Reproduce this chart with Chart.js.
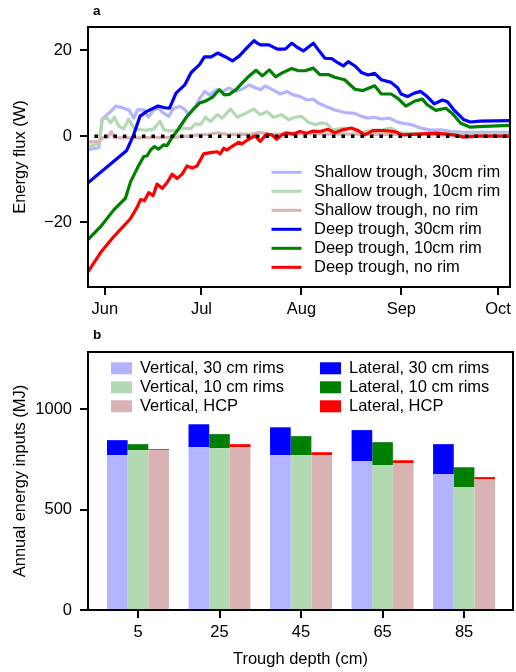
<!DOCTYPE html>
<html>
<head>
<meta charset="utf-8">
<script src="https://cdn.jsdelivr.net/npm/chart.js@4.4.1/dist/chart.umd.min.js"></script>
<style>
  body { margin: 0; background: #fff; }
  #wrap { position: relative; width: 516px; height: 672px; }
  #wrap canvas { position: absolute; left: 0; }
</style>
</head>
<body>
<div id="wrap">
  <canvas id="fluxChart" width="516" height="320" style="top:0"></canvas>
  <canvas id="energyChart" width="516" height="352" style="top:320px"></canvas>
</div>
<script>
// --- Panel a : energy flux, days counted from 1 June ---
const monthTicks = [0, 30, 61, 92, 122];
const monthLabels = ['Jun', 'Jul', 'Aug', 'Sep', 'Oct'];

const shallow30Days = [-5.2, -1.8, -0.8, 1.8, 3.4, 5, 6.4, 7.5, 9, 10.1, 12.1, 13.6, 15.1, 16.6, 18.3, 19.8, 21.4, 23.4, 25, 26, 28, 29.5, 31, 32.5, 34.7, 36.7, 38.5, 40.5, 42.8, 44.8, 46.9, 48.4, 49.8, 52, 54.5, 56.5, 58.5, 60.7, 62.8, 64.7, 66.2, 68.3, 71.4, 74.4, 77.5, 79.6, 81.7, 83.7, 85.8, 88.3, 91, 95, 98, 101, 104.3, 107.3, 111.4, 116.5, 125.7];
const shallow30Vals = [-3.2, -2.6, 4.0, 5.7, 7.0, 6.7, 6.3, 6.1, 4.2, 6.1, 6.1, 4.4, 6.1, 6.5, 5.3, 4.6, 6.5, 6.9, 6.1, 5.0, 6.9, 8.8, 10.4, 9.6, 10.8, 10.4, 11.2, 10.4, 11.0, 11.9, 11.2, 10.8, 11.7, 10.8, 9.8, 10.4, 9.6, 9.2, 8.4, 8.6, 7.7, 7.0, 6.1, 5.5, 5.3, 4.6, 4.2, 4.4, 4.0, 4.2, 3.2, 2.7, 1.9, 1.4, 1.5, 1.1, 0.9, 0.9, 0.9];

const shallow10Days = [-5.2, -1.8, -0.8, 0.7, 1.8, 3.0, 4.4, 5.9, 7.4, 9, 11.1, 13.1, 15.2, 17.1, 18.3, 20.4, 22.4, 24.5, 26.6, 28.1, 29.7, 31.3, 32.8, 34.9, 36.4, 39, 41.1, 43.6, 46.2, 48.2, 50.3, 52.3, 54.9, 57, 59, 61.1, 63.2, 65.2, 67.2, 68.8, 70.8, 73.9, 77, 79.1, 83.2, 86.2, 88.8, 91.3, 96.5, 101.6, 111.8, 125.7];
const shallow10Vals = [-2.4, -1.8, 4.0, 4.2, 3.1, 4.4, 2.3, 1.7, 4.0, 1.9, 1.5, 1.4, 1.7, 3.5, 1.5, 1.2, 1.5, 1.9, 1.7, 2.9, 2.7, 4.4, 3.4, 5.0, 4.2, 6.3, 4.4, 5.3, 6.3, 5.0, 5.7, 4.4, 5.0, 3.8, 4.4, 4.6, 3.2, 2.7, 3.1, 2.9, 1.4, 1.9, 1.5, 0.8, 1.4, 1.5, 1.9, 0.8, 0.6, 0.7, 0.5, 0.5];

const shallowNoDays = [-5.2, -1.8, -0.8, 1, 2, 3, 6, 10, 14, 18, 22, 26, 29, 32, 35, 38, 42, 45, 48, 51, 55, 60, 65, 70, 80, 90, 100, 110, 125.7];
const shallowNoVals = [-1.3, -1.3, -0.4, -0.2, 1.0, -0.3, -0.4, -0.4, -0.3, -0.3, -0.2, 0, 0.3, 0.4, 0.8, 0.4, 0.5, 0.4, 0.9, 0.4, 0.5, 0.6, 0.6, 0.5, 0.5, 0.4, 0.4, 0.2, 0.1];

const deep30Days = [-5.2, -1, 3, 6.8, 8.8, 10.9, 12.9, 16.5, 18.6, 20.1, 22.1, 24.8, 26.8, 29.4, 30.9, 33, 35, 37.5, 39.6, 41.7, 43.7, 46.3, 47.3, 48.3, 50.9, 53.5, 56, 58, 59.6, 61.6, 64.7, 66.2, 68.3, 70.4, 72.4, 74, 75.5, 77.6, 79.6, 81.7, 83.7, 85.8, 88.8, 90.9, 91.9, 93.9, 96, 98, 100, 102.2, 104.7, 106.3, 108.3, 111.4, 113.4, 116.5, 125.7];
const deep30Vals = [-10.8, -8.2, -5.7, -3.3, 0, 4.6, 5.7, 7.0, 6.6, 6.5, 10.0, 11.9, 14.8, 16.6, 18.4, 18.4, 19.3, 18.4, 17.5, 18.6, 20.2, 22.2, 21.6, 21.2, 21.2, 20.2, 20.2, 21.6, 20.7, 19.8, 21.6, 20.1, 18.1, 18.0, 17.0, 16.3, 17.3, 16.3, 14.8, 14.2, 14.6, 13.1, 12.5, 11.2, 9.8, 9.2, 10.0, 10.4, 9.2, 7.5, 8.4, 8.0, 6.1, 3.8, 3.3, 3.5, 3.6];

const deep10Days = [-5.2, -1.3, 2.8, 6.4, 8, 10.1, 12.1, 13.1, 14.2, 15.4, 16.7, 18.3, 19.3, 20.7, 22.7, 25.3, 27.3, 29.4, 31.4, 33.5, 35.5, 37.1, 38.6, 40.7, 42.8, 44.8, 46.9, 48.9, 51, 53, 55, 58, 60.1, 62.1, 64.7, 66.7, 69.3, 71.3, 74.4, 77.6, 80.1, 83.7, 85.8, 88.8, 90.9, 93.4, 96, 98.5, 100, 102.7, 105.8, 107.8, 110.4, 113.4, 117.5, 125.7];
const deep10Vals = [-24, -21, -17.1, -14.4, -10.6, -7.4, -4.7, -4.6, -3.2, -2.4, -3.0, -2.0, -2.2, -0.5, 1.5, 4.4, 6.1, 7.7, 8.2, 9.1, 10.8, 9.6, 9.7, 10.8, 12.5, 14.0, 15.3, 14.0, 15.4, 13.8, 14.7, 15.7, 15.2, 15.2, 15.8, 14.3, 14.3, 13.7, 13.1, 10.9, 10.6, 11.7, 9.8, 9.8, 8.8, 7.0, 8.1, 8.6, 7.3, 6.0, 6.5, 5.3, 3.0, 2.1, 2.3, 2.5];

const deepNoDays = [-5.2, -1.3, 2.8, 8, 10.1, 11.1, 12.3, 13.6, 15, 16.2, 17.8, 19.3, 20.9, 22.4, 24, 25.5, 27.1, 28.6, 30.7, 32.7, 34.8, 35.8, 36.9, 37.9, 39.4, 41.5, 42.5, 44.6, 46.6, 48.2, 50.2, 51.8, 53.3, 54.9, 56.4, 58.5, 60.5, 62.6, 64.6, 66.7, 69.3, 71.4, 73.4, 76.5, 78.6, 80.6, 83.2, 86.5, 89.9, 92.4, 97, 102.8, 106, 108.3, 111.4, 115.5, 125.7];
const deepNoVals = [-31.5, -27, -23.3, -19.1, -16.4, -14.7, -15.0, -13.1, -13.8, -11.1, -12.1, -10.8, -8.8, -9.8, -8.8, -6.9, -7.4, -6.9, -4.1, -3.8, -3.6, -4.1, -2.8, -3.2, -2.4, -1.4, -1.8, -0.7, 0.1, -1.2, 0.5, 0.3, -0.7, 0.3, 0.8, 0.5, 1.1, 0.7, 1.2, 1.1, 1.6, 0.8, 1.4, 1.9, 1.3, 0.3, 1.3, 1.3, 1.1, 0.3, 0.5, 0.7, 0.5, 0.3, -0.2, 0, 0];

const zeroDays = [-3.2, 125.7];
const zeroVals = [0, 0];

// --- Panel b : annual energy inputs (MJ) ---
const depths = [5, 25, 45, 65, 85];
const vert30 = [771, 811, 771, 741, 677];
const vert10 = [796, 806, 771, 721, 612];
const vertHcp = [796, 811, 771, 731, 652];
const lat30 = [75, 114, 139, 155, 149];
const lat10 = [30, 70, 95, 115, 99];
const latHcp = [5, 15, 15, 15, 10];

const FONT = '"Liberation Sans", Arial, Helvetica, sans-serif';
Chart.defaults.font.family = FONT;
Chart.defaults.font.size = 16.5;
Chart.defaults.color = '#000';

const C = {
  lightBlue: '#b3b3ff', lightGreen: '#b3d9b3', lightRed: '#d9b3b3',
  blue: '#0000ff', green: '#008000', red: '#ff0000'
};

function pts(xs, ys) {
  return xs.map((x, i) => ({ x: x, y: ys[i] }));
}

// cadre, lettre du panneau et légende dessinés à la main
const decorPlugin = {
  id: 'decor',
  afterDraw(chart, args, opts) {
    const ctx = chart.ctx;
    const a = chart.chartArea;
    ctx.save();
    ctx.strokeStyle = '#000';
    ctx.lineWidth = 2;
    ctx.strokeRect(a.left, a.top, a.right - a.left, a.bottom - a.top);

    ctx.fillStyle = '#000';
    ctx.font = 'bold 13.5px ' + FONT;
    ctx.textBaseline = 'alphabetic';
    ctx.fillText(opts.letter, a.left + 5, opts.letterY);

    ctx.font = '16.5px ' + FONT;
    ctx.textBaseline = 'middle';
    opts.items.forEach(it => {
      const ds = chart.data.datasets.find(d => d.label === it.label);
      if (opts.kind === 'line') {
        ctx.strokeStyle = ds.borderColor;
        ctx.lineWidth = 3;
        ctx.beginPath();
        ctx.moveTo(it.x, it.y);
        ctx.lineTo(it.x + 30, it.y);
        ctx.stroke();
        ctx.fillStyle = '#000';
        ctx.fillText(it.label, it.x + 42.5, it.y + 0.5);
      } else {
        ctx.fillStyle = ds.backgroundColor;
        ctx.fillRect(it.x, it.y - 6, 21, 12);
        ctx.fillStyle = '#000';
        ctx.fillText(it.label, it.x + 29, it.y + 0.5);
      }
    });
    ctx.restore();
  }
};

function lineSet(label, days, vals, color, order) {
  return {
    label: label,
    data: pts(days, vals),
    borderColor: color,
    borderWidth: 3.2,
    pointRadius: 0,
    tension: 0,
    borderJoinStyle: 'round',
    order: order
  };
}

const fluxLegend = [
  'Shallow trough, 30cm rim', 'Shallow trough, 10cm rim', 'Shallow trough, no rim',
  'Deep trough, 30cm rim', 'Deep trough, 10cm rim', 'Deep trough, no rim'
].map((label, i) => ({ label: label, x: 271.5, y: 172.3 + 19 * i }));

new Chart(document.getElementById('fluxChart'), {
  type: 'line',
  data: {
    datasets: [
      lineSet('Shallow trough, 30cm rim', shallow30Days, shallow30Vals, C.lightBlue, 6),
      lineSet('Shallow trough, 10cm rim', shallow10Days, shallow10Vals, C.lightGreen, 5),
      lineSet('Shallow trough, no rim', shallowNoDays, shallowNoVals, C.lightRed, 4),
      lineSet('Deep trough, 30cm rim', deep30Days, deep30Vals, C.blue, 3),
      lineSet('Deep trough, 10cm rim', deep10Days, deep10Vals, C.green, 2),
      lineSet('Deep trough, no rim', deepNoDays, deepNoVals, C.red, 1),
      {
        label: 'zero',
        data: pts(zeroDays, zeroVals),
        borderColor: '#000',
        borderWidth: 3.5,
        borderDash: [3.5, 6],
        borderCapStyle: 'butt',
        pointRadius: 0,
        order: 0
      }
    ]
  },
  options: {
    responsive: false,
    animation: false,
    layout: { padding: { top: 27, right: 3, left: 0, bottom: 0 } },
    plugins: {
      legend: { display: false },
      tooltip: { enabled: false },
      decor: { letter: 'a', letterY: 15, kind: 'line', items: fluxLegend }
    },
    scales: {
      x: {
        type: 'linear',
        min: -5.2,
        max: 125.7,
        afterBuildTicks: s => { s.ticks = monthTicks.map(v => ({ value: v })); },
        afterFit: s => { s.height = 33; },
        ticks: {
          padding: 5,
          maxRotation: 0,
          callback: v => monthLabels[monthTicks.indexOf(v)]
        },
        grid: { drawOnChartArea: false, tickLength: 8, lineWidth: 2, color: '#000' },
        border: { display: false }
      },
      y: {
        min: -35,
        max: 25.35,
        afterBuildTicks: s => { s.ticks = [-20, 0, 20].map(v => ({ value: v })); },
        afterFit: s => { s.width = 88; },
        ticks: {
          padding: 8,
          callback: v => (v < 0 ? '\u2212' + Math.abs(v) : String(v))
        },
        grid: { drawOnChartArea: false, tickLength: 8, lineWidth: 2, color: '#000' },
        border: { display: false },
        title: { display: true, text: 'Energy flux (W)', padding: { top: 10.5, bottom: 0 } }
      }
    }
  },
  plugins: [decorPlugin]
});

const energyLegend = [
  { label: 'Vertical, 30 cm rims', x: 111, y: 48.3 },
  { label: 'Vertical, 10 cm rims', x: 111, y: 67.3 },
  { label: 'Vertical, HCP', x: 111, y: 86.3 },
  { label: 'Lateral, 30 cm rims', x: 320, y: 48.3 },
  { label: 'Lateral, 10 cm rims', x: 320, y: 67.3 },
  { label: 'Lateral, HCP', x: 320, y: 86.3 }
];

function barSet(label, vals, color, stack) {
  return {
    label: label,
    data: pts(depths, vals),
    backgroundColor: color,
    borderWidth: 0,
    stack: stack,
    categoryPercentage: 0.76,
    barPercentage: 1.0
  };
}

new Chart(document.getElementById('energyChart'), {
  type: 'bar',
  data: {
    datasets: [
      barSet('Vertical, 30 cm rims', vert30, C.lightBlue, 'r30'),
      barSet('Vertical, 10 cm rims', vert10, C.lightGreen, 'r10'),
      barSet('Vertical, HCP', vertHcp, C.lightRed, 'hcp'),
      barSet('Lateral, 30 cm rims', lat30, C.blue, 'r30'),
      barSet('Lateral, 10 cm rims', lat10, C.green, 'r10'),
      barSet('Lateral, HCP', latHcp, C.red, 'hcp')
    ]
  },
  options: {
    responsive: false,
    animation: false,
    layout: { padding: { top: 32, right: 3, left: 0, bottom: 0 } },
    plugins: {
      legend: { display: false },
      tooltip: { enabled: false },
      decor: { letter: 'b', letterY: 19.3, kind: 'box', items: energyLegend }
    },
    scales: {
      x: {
        type: 'linear',
        min: -7.26,
        max: 97,
        offset: false,
        afterBuildTicks: s => { s.ticks = depths.map(v => ({ value: v })); },
        afterFit: s => { s.height = 62; },
        ticks: { padding: 5, maxRotation: 0, callback: v => String(v) },
        grid: { drawOnChartArea: false, offset: false, tickLength: 8, lineWidth: 2, color: '#000' },
        border: { display: false },
        title: { display: true, text: 'Trough depth (cm)', padding: { top: 0, bottom: 3 } }
      },
      y: {
        stacked: true,
        min: 0,
        max: 1285,
        afterBuildTicks: s => { s.ticks = [0, 500, 1000].map(v => ({ value: v })); },
        afterFit: s => { s.width = 88; },
        ticks: { padding: 8, callback: v => String(v) },
        grid: { drawOnChartArea: false, tickLength: 8, lineWidth: 2, color: '#000' },
        border: { display: false },
        title: { display: true, text: 'Annual energy inputs (MJ)', padding: { top: 10.5, bottom: 0 } }
      }
    }
  },
  plugins: [decorPlugin]
});
</script>
</body>
</html>
